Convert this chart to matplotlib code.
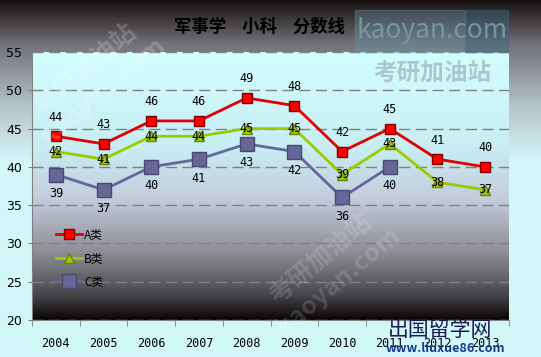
import numpy as np
import matplotlib
matplotlib.use("Agg")
import matplotlib.pyplot as plt
from matplotlib.colors import LinearSegmentedColormap

plt.rcParams['font.family'] = ['Noto Sans CJK SC', 'DejaVu Sans']

years = ["2004", "2005", "2006", "2007", "2008", "2009", "2010", "2011", "2012", "2013"]
series_a = [44, 43, 46, 46, 49, 48, 42, 45, 41, 40]
series_b = [42, 41, 44, 44, 45, 45, 39, 43, 38, 37]
series_c = [39, 37, 40, 41, 43, 42, 36, 40]
title = "军事学    小科    分数线"

W, H = 541, 357
fig = plt.figure(figsize=(W / 100, H / 100), dpi=100)

# figure background gradient
bg = fig.add_axes([0, 0, 1, 1], zorder=-10)
bg.set_axis_off()
cm_fig = LinearSegmentedColormap.from_list("f", [(0, "#181010"), (0.12, "#707078"), (0.3, "#b8c4cc"), (0.45, "#d4f6f8"), (1, "#d2f8fa")])
grad = np.linspace(0, 1, 256).reshape(-1, 1)
bg.imshow(grad, aspect="auto", cmap=cm_fig, extent=[0, 1, 0, 1], origin="upper")
bg.set_xlim(0, 1); bg.set_ylim(0, 1)

ax = fig.add_axes([32 / W, 1 - 320 / H, (509 - 32) / W, (320 - 52) / H])
ax.patch.set_alpha(0)
cm_ax = LinearSegmentedColormap.from_list("a", [(0, "#d2fefe"), (0.35, "#c8eef4"), (0.55, "#c4ccdc"), (0.75, "#8c8c94"), (0.9, "#4a4a4e"), (1, "#0a0606")])
ax.imshow(grad, aspect="auto", cmap=cm_ax, extent=[0, 1, 0, 1], origin="upper",
          transform=ax.transAxes, zorder=0)

x = np.arange(len(years))
ax.set_xlim(-0.5, len(years) - 0.5)
ax.set_ylim(20, 55)
ax.set_yticks(np.arange(20, 56, 5))
ax.grid(axis="y", color="#808080", linestyle=(0, (8, 4)), linewidth=1, zorder=1)
ax.set_axisbelow(False)

ax.plot(x, series_a, color="#e00000", lw=2, marker="s", ms=7, mfc="#ff0000", mec="#800000", label="A类", zorder=5)
ax.plot(x, series_b, color="#99cc00", lw=2, marker="^", ms=7, mfc="#99cc00", mec="#708000", label="B类", zorder=4)
ax.plot(np.arange(len(series_c)), series_c, color="#666699", lw=2, marker="s", ms=10, mfc="#666699", mec="#4a4a70", label="C类", zorder=3)

fs = 8.5
for xi, v in zip(x, series_a):
    ax.annotate(str(v), (xi, v), xytext=(0, 9), textcoords="offset points", ha="center", va="bottom", fontsize=fs, family="DejaVu Sans Mono", zorder=6)
for xi, v in zip(x, series_b):
    ax.annotate(str(v), (xi, v), xytext=(0, 0), textcoords="offset points", ha="center", va="center", fontsize=fs, family="DejaVu Sans Mono", zorder=6)
for xi, v in zip(np.arange(len(series_c)), series_c):
    ax.annotate(str(v), (xi, v), xytext=(0, -9), textcoords="offset points", ha="center", va="top", fontsize=fs, family="DejaVu Sans Mono", zorder=6)

ax.set_xticks(x)
ax.set_xticklabels(years, fontsize=8.5, family="DejaVu Sans Mono")
ax.set_xticks(np.arange(-0.5, len(years), 1), minor=True)
ax.tick_params(axis="x", which="major", length=0, pad=12)
ax.tick_params(axis="x", which="minor", length=4, color="#808080")
ax.tick_params(axis="y", length=3, color="#808080", labelsize=9, pad=4)
for lab in ax.get_yticklabels():
    lab.set_family("DejaVu Sans")
for s in ["top", "right"]:
    ax.spines[s].set_visible(False)
ax.spines["left"].set_color("#808080")
ax.spines["bottom"].set_color("#808080")

leg = ax.legend(loc="upper left", bbox_to_anchor=(0.04, 0.36), frameon=False, fontsize=8.5,
                handlelength=2.2, labelspacing=0.9, handletextpad=0.2, borderaxespad=0)

fig.text(259 / W, 1 - 27 / H, title, ha="center", va="center", fontsize=12.5, weight="bold")

# watermarks
fig.patches.append(plt.Rectangle((355 / W, 1 - 52 / H), (465 - 355) / W, 42 / H,
                                  transform=fig.transFigure, color="#6a9aa8", alpha=0.35, zorder=20))
fig.patches.append(plt.Rectangle((465 / W, 1 - 52 / H), (508 - 465) / W, 42 / H,
                                  transform=fig.transFigure, color="#3a6a80", alpha=0.45, zorder=20))
fig.text(432 / W, 1 - 31 / H, "kaoyan.com", ha="center", va="center", fontsize=19, color="#7a9aa8", alpha=0.9, zorder=21)
fig.text(432 / W, 1 - 72 / H, "考研加油站", ha="center", va="center", fontsize=17, weight="bold", color="#a0bcc0", alpha=0.8, zorder=21)
fig.text(95 / W, 1 - 80 / H, "考研加油站\nkaoyan.com", ha="center", va="center", fontsize=18, weight="bold",
         color="#ffffff", alpha=0.2, rotation=40, zorder=21)
fig.text(330 / W, 1 - 270 / H, "考研加油站\nkaoyan.com", ha="center", va="center", fontsize=18, weight="bold",
         color="#ffffff", alpha=0.15, rotation=40, zorder=21)
fig.text(440 / W, 1 - 330 / H, "出国留学网", ha="center", va="center", fontsize=15, color="#1a1a50", zorder=21)
fig.text(445 / W, 1 - 348 / H, "www.liuxue86.com", ha="center", va="center", fontsize=9, weight="bold", color="#1a3a90", zorder=21)

fig.savefig("out.png", dpi=100)
